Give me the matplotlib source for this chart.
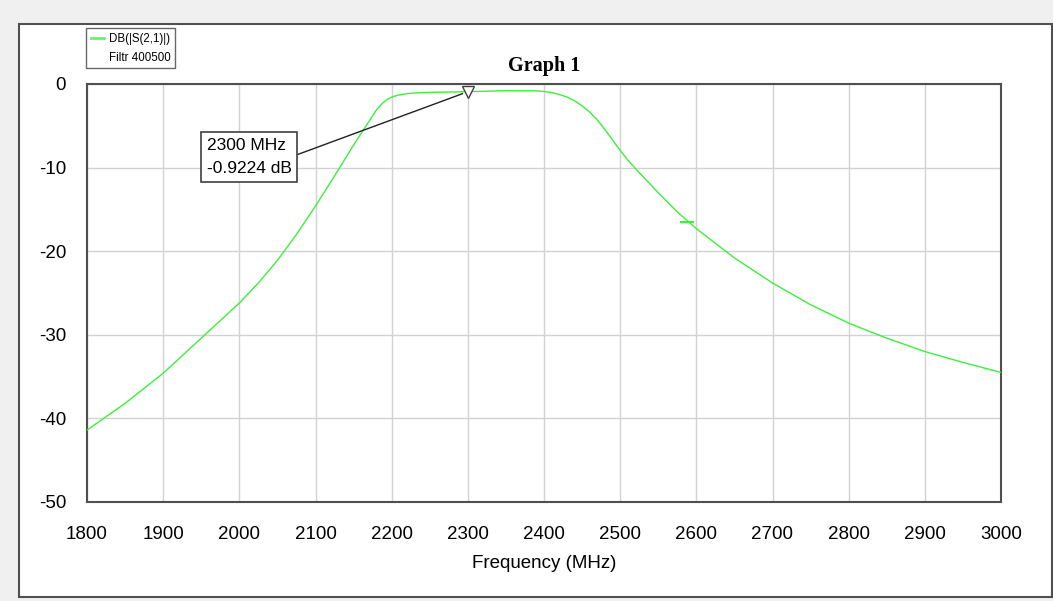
import matplotlib
matplotlib.use("Agg")
import matplotlib.pyplot as plt
from matplotlib.patches import Rectangle
from matplotlib.lines import Line2D

# ---- data ----
freq_mhz = [1800, 1850, 1900, 1950, 2000, 2025, 2050, 2075, 2100, 2125,
            2150, 2160, 2170, 2180, 2188, 2195, 2202, 2210, 2220, 2235,
            2250, 2300, 2350, 2390, 2400, 2410, 2420, 2430, 2440, 2450,
            2460, 2470, 2480, 2490, 2500, 2510, 2525, 2550, 2575, 2600,
            2650, 2700, 2750, 2800, 2850, 2900, 2950, 3000]
s21_db = [-41.4, -38.2, -34.6, -30.4, -26.2, -23.8, -21.1, -18.0, -14.6, -11.0,
          -7.3, -5.9, -4.5, -3.1, -2.3, -1.8, -1.5, -1.3, -1.15, -1.05,
          -1.0, -0.92, -0.8, -0.82, -0.9, -1.02, -1.25, -1.55, -2.0, -2.6,
          -3.35, -4.3, -5.45, -6.7, -7.95, -9.1, -10.6, -13.0, -15.3, -17.3,
          -20.8, -23.8, -26.4, -28.6, -30.4, -32.0, -33.3, -34.5]
symbol_freq = [2588]
symbol_db = [-16.5]
marker_freq = 2300
marker_db = -0.9224
x_ticks = [1800, 1900, 2000, 2100, 2200, 2300, 2400, 2500, 2600, 2700, 2800, 2900, 3000]
y_ticks = [0, -10, -20, -30, -40, -50]
trace_label = "DB(|S(2,1)|)"
doc_label = "Filtr 400500"
title = "Graph 1"
x_label = "Frequency (MHz)"

plt.rcParams['font.family'] = ['Liberation Sans', 'DejaVu Sans']
plt.rcParams['axes.unicode_minus'] = False

W, H = 1053, 601
fig = plt.figure(figsize=(W / 100, H / 100), dpi=100, facecolor='#f0f0f0')

# inner white panel
panel = Rectangle((19 / W, 1 - 597 / H), (1052 - 19) / W, (597 - 24) / H,
                  transform=fig.transFigure, facecolor='white',
                  edgecolor='#505050', linewidth=1.5, zorder=-10)
fig.patches.append(panel)

ax = fig.add_axes([87 / W, 1 - 502 / H, (1001 - 87) / W, (502 - 84) / H])
ax.set_facecolor('white')

green = '#3cef3c'
ax.plot(freq_mhz, s21_db, color=green, lw=1.0, zorder=3)
ax.plot(symbol_freq, symbol_db, ls='none', marker='_', color=green,
        markersize=10, markeredgewidth=1.5, zorder=3)

ax.set_xlim(1800, 3000)
ax.set_ylim(-50, 0)
ax.set_xticks(x_ticks)
ax.set_yticks(y_ticks)
ax.grid(True, color='#d2d2d2', lw=1.0, zorder=0)
ax.set_axisbelow(True)
ax.tick_params(axis='both', length=0, labelsize=13.5, colors='black')
ax.tick_params(axis='x', pad=17)
ax.tick_params(axis='y', pad=15)
for sp in ax.spines.values():
    sp.set_color('#505050')
    sp.set_linewidth(1.5)

ax.set_xlabel(x_label, fontsize=13.5, labelpad=9)
ax.set_title(title, fontsize=14.5, fontweight='bold',
             family=['Liberation Serif', 'DejaVu Serif'], pad=9)

# marker and annotation
ax.plot([marker_freq], [marker_db], ls='none', marker='v', markersize=9,
        markerfacecolor='white', markeredgecolor='#404040',
        markeredgewidth=1.0, zorder=5)
ax.annotate(f"{marker_freq} MHz\n{marker_db} dB",
            xy=(marker_freq, marker_db), xycoords='data',
            xytext=(0.131, 0.826), textcoords='axes fraction',
            ha='left', va='center', fontsize=12.5, linespacing=1.7,
            bbox=dict(boxstyle='square,pad=0.33', fc='white', ec='#404040', lw=1.2),
            arrowprops=dict(arrowstyle='-', color='#202020', lw=1.0,
                            relpos=(1.0, 0.5), shrinkA=0, shrinkB=4),
            zorder=6)

# legend
handles = [Line2D([], [], color='#6af06a', lw=2.0),
           Line2D([], [], color='none', lw=0)]
leg = fig.legend(handles, [trace_label, doc_label], loc='upper left',
                 bbox_to_anchor=(86 / W, 1 - 28 / H), fontsize=8.3,
                 frameon=True, fancybox=False, handlelength=1.2,
                 handletextpad=0.4, labelspacing=0.6, borderpad=0.4,
                 borderaxespad=0)
leg.get_frame().set_edgecolor('#404040')
leg.get_frame().set_linewidth(1.0)

fig.savefig('out.png', dpi=100, facecolor=fig.get_facecolor())
